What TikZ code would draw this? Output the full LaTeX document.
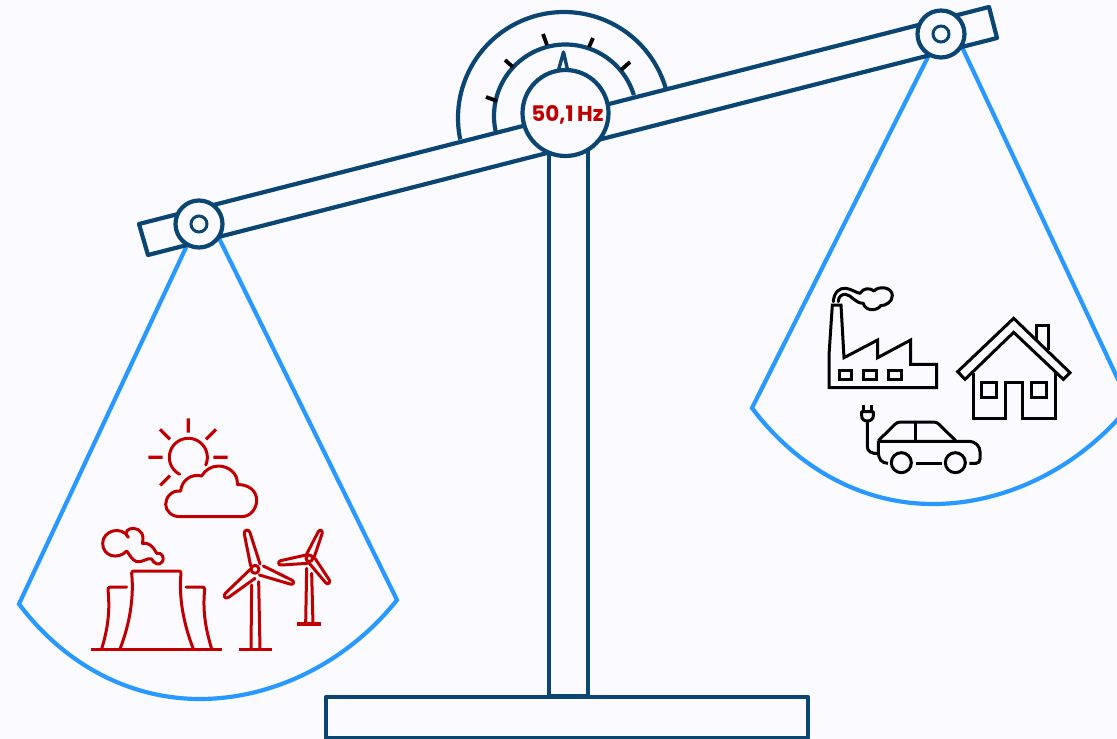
\documentclass[tikz,border=0pt]{standalone}
\usepackage{fontspec}
\setsansfont{Poppins}
\definecolor{bgc}{HTML}{FBFBFF}
\definecolor{navy}{HTML}{0B4572}
\definecolor{skyb}{HTML}{2998FF}
\definecolor{redc}{HTML}{C00000}
\tikzset{
  frame/.style={draw=navy,line width=4.2pt,line join=round,line cap=round},
  pan/.style={draw=skyb,line width=4.2pt,line cap=round,line join=miter},
  tick/.style={draw=black,line width=3.8pt},
  disc/.style={circle,draw=navy,fill=bgc,line width=4.2pt,inner sep=0pt},
  redicon/.style={draw=redc,line width=3pt,line join=round,line cap=round},
  blackicon/.style={draw=black,line width=3pt,line join=miter},
  zoomL/.style={shift={(80,410)},x=0.33333pt,y=-0.33333pt},
  zoomR/.style={shift={(810,275)},x=0.33333pt,y=-0.33333pt},
}
\begin{document}
\begin{tikzpicture}[x=1pt,y=-1pt]
\useasboundingbox (0,0) rectangle (1117,739);
\fill[bgc] (0,0) rectangle (1117,739);
\clip (0,0) rectangle (1117,739);
% named anchor points
\coordinate (pL) at (199,224);
\coordinate (pR) at (941,34);
\coordinate (pLa) at (19,604);
\coordinate (pLm) at (200,699);
\coordinate (pLb) at (397,600);
\coordinate (pLc) at (212,224);
\coordinate (pLd) at (197,224);
\coordinate (pRa) at (752,408);
\coordinate (pRm) at (933,504);
\coordinate (pRb) at (1130,405);
\coordinate (pRc) at (954,30);
\coordinate (pRd) at (939.5,34);
% pans
\draw[pan] (pLd) -- (pLa) .. controls (65,665) and (130,699) .. (pLm)
  .. controls (270,699) and (345,665) .. (pLb) -- (pLc);
\draw[pan] (pRd) -- (pRa) .. controls (798,469) and (863,504) .. (pRm)
  .. controls (1003,504) and (1078,470) .. (pRb) -- (pRc);
% base and column
\draw[frame] (326,738) rectangle (808,697);
\draw[frame] (549,130) -- (549,696) -- (588,696) -- (588,130);
% dial arcs
\draw[frame,line cap=butt] plot[domain=-11.7:163.5,samples=80] ({564+106*cos(180-\x)},{118-106*sin(180-\x)});
\draw[frame,line cap=butt] plot[domain=-13:163,samples=80] ({565.5+71.5*cos(180-\x)},{116-71.5*sin(180-\x)});
% ticks
\draw[tick] (486,97) -- (497,101);
\draw[tick] (505,60) -- (513,67);
\draw[tick] (543,34) -- (547,45);
\draw[tick] (593,38) -- (589,47);
\draw[tick] (630,62) -- (621,70);
% beam
\draw[frame,fill=bgc] (139,224) -- (989,7) -- (997,38) -- (148,255) -- cycle;
% needle
\draw[frame,line width=3.4pt] (558,72) -- (563.5,52) -- (568,72);
% circles
\node[disc,minimum size=86pt] (hub) at (565.5,113) {};
\node[font=\sffamily\bfseries\fontsize{21.5}{23}\selectfont,text=redc,inner sep=0pt,anchor=center] (freq) at (567.5,114.5) {50,1\kern3.5pt Hz};
\node[disc,minimum size=47pt] (cL) at (pL) {};
\node[disc,line width=3pt,minimum size=16pt] (cLi) at (pL) {};
\node[disc,minimum size=47pt] (cR) at (pR) {};
\node[disc,line width=3pt,minimum size=16pt] (cRi) at (pR) {};
% ---------- red icons ----------
\begin{scope}[zoomL,redicon]
  % sun
  \draw plot[domain=-24:243,samples=50] ({325+57*cos(\x)},{142-57*sin(\x)});
  \draw[line cap=butt,line width=3.2pt] (325,25) -- (325,68) (400,142) -- (443,142) (205,142) -- (248,142)
    (378,88) -- (408,58) (270,88) -- (240,58) (270,197) -- (241,226);
  % cloud
  \draw (300,320) -- (485,320) .. controls (510,320) and (530,298) .. (530,270)
    .. controls (530,243) and (505,222) .. (472,224)
    .. controls (475,190) and (445,168) .. (415,168)
    .. controls (395,168) and (375,180) .. (365,198)
    .. controls (335,190) and (305,210) .. (302,243)
    .. controls (275,240) and (257,262) .. (257,283)
    .. controls (257,303) and (275,320) .. (300,320) -- cycle;
  % cooling towers
  \draw (120,717) .. controls (150,640) and (162,560) .. (155,490) .. controls (155,485) and (157,483) .. (162,483)
    -- (296,483) .. controls (301,483) and (303,485) .. (303,490) .. controls (296,560) and (310,640) .. (340,717);
  \draw (140,531) -- (92,531) .. controls (87,531) and (84,533) .. (84,538) .. controls (90,600) and (85,650) .. (65,717);
  \draw (318,531) -- (366,531) .. controls (371,531) and (374,533) .. (374,538) .. controls (368,600) and (375,650) .. (395,717);
  \draw[line cap=butt,line width=3.2pt] (33,718) -- (425,718);
  % smoke
  \draw (140,423) .. controls (115,450) and (68,440) .. (68,400)
    .. controls (68,362) and (125,345) .. (145,382)
    .. controls (130,365) and (145,355) .. (160,355)
    .. controls (180,355) and (195,375) .. (187,400)
    .. controls (205,395) and (220,410) .. (230,430)
    .. controls (245,425) and (255,445) .. (247,455)
    .. controls (238,468) and (222,462) .. (215,447)
    .. controls (200,442) and (190,458) .. (170,455)
    .. controls (155,450) and (150,435) .. (140,423);
  % turbine 1
  \draw (512,468) -- (493,372) .. controls (491,358) and (507,356) .. (510,368) -- (540,462);
  \draw (550,468) -- (635,510) .. controls (646,516) and (640,526) .. (630,522) -- (538,495);
  \draw (512,477) -- (436,550) .. controls (427,560) and (438,569) .. (447,561) -- (525,505);
  \draw[fill=bgc] (525,478) circle[radius=4pt];
  \draw (515,525) -- (513,717) (536,515) -- (540,717);
  \draw[line cap=butt,line width=3.2pt] (478,718) -- (576,718);
  % turbine 2
  \draw (680,432) -- (715,365) .. controls (720,356) and (730,362) .. (726,372) -- (703,440);
  \draw (678,435) -- (602,452) .. controls (592,455) and (595,467) .. (606,465) -- (682,460);
  \draw (705,445) -- (748,510) .. controls (752,520) and (742,525) .. (736,517) -- (688,460);
  \draw[fill=bgc] (688,445) circle[radius=3.3pt];
  \draw (680,475) -- (677,642) (695,490) -- (699,642);
  \draw[line cap=butt,line width=3.2pt] (652,642) -- (723,642);
\end{scope}
% ---------- black icons ----------
\begin{scope}[zoomR,blackicon]
  % factory
  \draw (67,90) -- (93,90) -- (102,248) -- (203,195) -- (203,248) -- (302,195) -- (302,268) -- (380,268) -- (380,338) -- (57,338) -- (57,240) -- cycle;
  \draw (87,285) rectangle (125,312) (160,285) rectangle (198,312) (234,285) rectangle (273,312);
  \draw[line cap=round,line join=round] (70,80) .. controls (72,50) and (90,38) .. (107,40)
    .. controls (125,42) and (135,52) .. (150,55)
    .. controls (160,38) and (180,38) .. (192,48)
    .. controls (205,32) and (247,35) .. (247,62)
    .. controls (247,82) and (225,92) .. (212,92)
    .. controls (200,110) and (165,108) .. (160,85)
    .. controls (135,85) and (125,60) .. (107,58)
    .. controls (95,57) and (85,65) .. (85,80);
  % house
  \draw (443,290) -- (611,130) -- (780,293) -- (760,313) -- (611,172) -- (465,313) -- cycle;
  \draw (678,193) -- (678,150) -- (714,150) -- (714,225);
  \draw (490,295) -- (490,430) -- (585,430) -- (585,323) -- (637,323) -- (637,430) -- (735,430) -- (735,292);
  \draw (514,323) rectangle (558,367) (665,323) rectangle (710,367);
  % car
  \draw[line join=round] (205,497) -- (255,448) .. controls (260,443) and (265,441) .. (272,441) -- (370,441) .. controls (378,441) and (382,443) .. (387,448) -- (437,497);
  \draw (315,441) -- (315,497);
  \draw (205,499) -- (475,499) .. controls (498,499) and (510,515) .. (510,530) -- (510,552) .. controls (510,560) and (505,565) .. (498,565) -- (478,565);
  \draw (318,565) -- (395,565);
  \draw (205,497) -- (205,530) .. controls (205,552) and (215,565) .. (234,565);
  \draw (274,563) circle[radius=10pt] (436,563) circle[radius=10pt];
  % plug and cord
  \draw (172,438) -- (172,515) .. controls (172,530) and (185,536) .. (205,536);
  \draw[line join=round] (155,410) -- (190,410) -- (190,422) .. controls (190,432) and (182,438) .. (172,438) .. controls (162,438) and (155,432) .. (155,422) -- cycle;
  \draw (160,390) -- (160,410) (185,390) -- (185,410);
\end{scope}
\end{tikzpicture}
\end{document}
